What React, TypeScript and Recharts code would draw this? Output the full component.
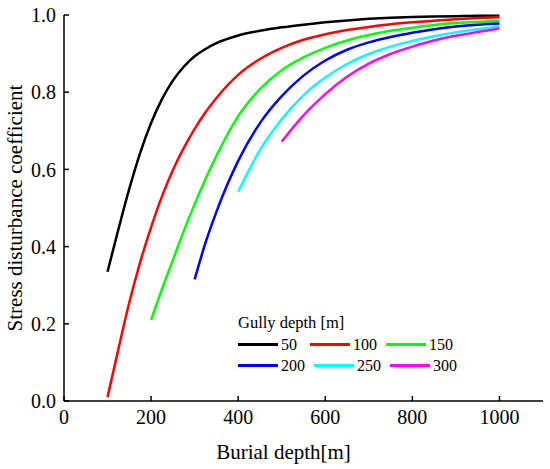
import React from 'react';
import { LineChart, Line, XAxis, YAxis, Legend } from 'recharts';

const depths = [100, 125, 150, 175, 200, 225, 250, 275, 300, 325, 350, 400, 450, 500, 550, 600, 650, 700, 750, 800, 850, 900, 950, 1000];

const gully50 = [0.335, 0.445, 0.55, 0.643, 0.72, 0.782, 0.83, 0.866, 0.893, 0.912, 0.927, 0.947, 0.959, 0.968, 0.975, 0.981, 0.986, 0.99, 0.993, 0.995, 0.996, 0.997, 0.998, 0.998];
const gully100 = [0.01, 0.135, 0.255, 0.36, 0.45, 0.53, 0.598, 0.655, 0.705, 0.748, 0.785, 0.845, 0.886, 0.915, 0.936, 0.95, 0.961, 0.969, 0.976, 0.981, 0.985, 0.989, 0.992, 0.994];
const gully150 = [null, null, null, null, 0.21, 0.29, 0.365, 0.44, 0.51, 0.575, 0.635, 0.738, 0.808, 0.857, 0.89, 0.915, 0.934, 0.948, 0.959, 0.967, 0.974, 0.979, 0.982, 0.985];
const gully200 = [null, null, null, null, null, null, null, null, 0.315, 0.41, 0.49, 0.622, 0.72, 0.79, 0.843, 0.882, 0.91, 0.929, 0.943, 0.954, 0.963, 0.97, 0.975, 0.978];
const gully250 = [null, null, null, null, null, null, null, null, null, null, null, 0.542, 0.65, 0.73, 0.792, 0.838, 0.873, 0.899, 0.918, 0.933, 0.945, 0.955, 0.963, 0.97];
const gully300 = [null, null, null, null, null, null, null, null, null, null, null, null, null, 0.672, 0.74, 0.795, 0.84, 0.874, 0.899, 0.918, 0.934, 0.946, 0.956, 0.965];

const xTicks = [0, 200, 400, 600, 800, 1000];
const yTicks = [0, 0.2, 0.4, 0.6, 0.8, 1.0];

const series = [
  { key: 'g50', name: '50', color: '#000000', values: gully50 },
  { key: 'g100', name: '100', color: '#ff0000', values: gully100 },
  { key: 'g150', name: '150', color: '#00ff00', values: gully150 },
  { key: 'g200', name: '200', color: '#0000ff', values: gully200 },
  { key: 'g250', name: '250', color: '#00ffff', values: gully250 },
  { key: 'g300', name: '300', color: '#ff00ff', values: gully300 },
];

const data = depths.map((d, i) => {
  const row: Record<string, number | null> = { depth: d };
  series.forEach((s) => {
    row[s.key] = s.values[i];
  });
  return row;
});

const font = 'Liberation Serif, Times New Roman, serif';

// legend drawn from the series list so the order stays 50..300
const LegendBox = () => {
  const rows = [series.slice(0, 3), series.slice(3, 6)];
  return (
    <div style={{ fontFamily: font, color: '#000' }}>
      <div style={{ fontSize: 16.5, lineHeight: '20px', marginBottom: 1 }}>Gully depth [m]</div>
      {rows.map((row, ri) => (
        <div key={ri} style={{ display: 'flex', alignItems: 'center', height: 21 }}>
          {row.map((it) => (
            <div key={it.key} style={{ display: 'flex', alignItems: 'center', marginRight: 9 }}>
              <div style={{ width: 40, height: 3, background: it.color, marginRight: 3 }} />
              <span style={{ fontSize: 16, fontFamily: font, minWidth: 20 }}>{it.name}</span>
            </div>
          ))}
        </div>
      ))}
    </div>
  );
};

const App: React.FC = () => {
  return (
    <div style={{ position: 'absolute', left: 0, top: 0, width: 550, height: 469, background: '#fff', fontFamily: font }}>
      <LineChart width={550} height={469} data={data} margin={{ top: 15, right: 7, bottom: 0, left: 0 }} style={{ fontFamily: font }}>
        <XAxis
          dataKey="depth"
          type="number"
          domain={[0, 1100]}
          ticks={xTicks}
          allowDataOverflow
          height={68}
          stroke="#000"
          strokeWidth={1.5}
          tickSize={-5}
          tickMargin={14}
          fontFamily={font}
          fontSize={20}
          tick={{ fill: '#000', fontSize: 20, fontFamily: font }}
          label={{ value: 'Burial depth[m]', position: 'insideBottom', offset: 10, dx: -20, fill: '#000', fontSize: 21, fontFamily: font }}
        />
        <XAxis xAxisId="top" orientation="top" dataKey="depth" type="number" domain={[0, 1100]} height={0} tick={false} tickLine={false} stroke="#000" strokeWidth={1.5} />
        <YAxis
          type="number"
          domain={[0, 1]}
          ticks={yTicks}
          width={64}
          stroke="#000"
          strokeWidth={1.5}
          tickSize={-5}
          tickMargin={13}
          fontFamily={font}
          fontSize={20}
          tickFormatter={(v: number) => v.toFixed(1)}
          tick={{ fill: '#000', fontSize: 20, fontFamily: font }}
          label={{ value: 'Stress disturbance coefficient', angle: -90, position: 'center', dx: -17, fill: '#000', fontSize: 21, fontFamily: font }}
        />
        <YAxis yAxisId="right" orientation="right" domain={[0, 1]} width={0} tick={false} tickLine={false} stroke="#000" strokeWidth={1.5} />
        <Legend
          layout="horizontal"
          verticalAlign="middle"
          align="center"
          content={<LegendBox />}
          wrapperStyle={{ left: 238, top: 313, width: 230 }}
        />
        {series.map((s) => (
          <Line
            key={s.key}
            type="monotone"
            dataKey={s.key}
            name={s.name}
            stroke={s.color}
            strokeWidth={2.5}
            dot={false}
            activeDot={false}
            isAnimationActive={false}
          />
        ))}
      </LineChart>
    </div>
  );
};

export default App;
